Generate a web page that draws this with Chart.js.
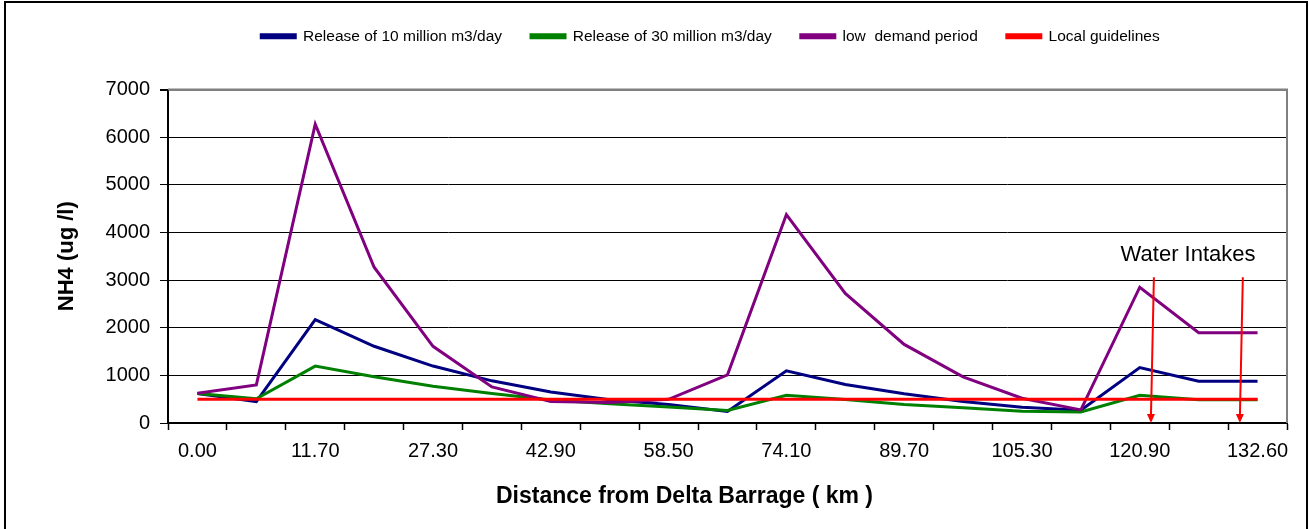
<!DOCTYPE html>
<html>
<head>
<meta charset="utf-8">
<script src="https://cdn.jsdelivr.net/npm/chart.js@4"></script>
<style>
  html, body { margin: 0; padding: 0; background: #fff; }
  canvas { display: block; }
</style>
</head>
<body>
<canvas id="nh4Chart" width="1309" height="529"></canvas>
<script>
const distances = ['0.00', '3.90', '11.70', '19.50', '27.30', '35.10', '42.90', '50.70', '58.50', '66.30',
                   '74.10', '81.90', '89.70', '97.50', '105.30', '113.10', '120.90', '128.70', '132.60'];
const release10 = [620, 450, 2170, 1610, 1195, 885, 650, 490, 390, 240, 1095, 810, 612, 452, 332, 270, 1165, 878, 878];
const release30 = [620, 510, 1195, 972, 772, 618, 482, 405, 335, 262, 580, 493, 390, 318, 245, 232, 580, 488, 488];
const lowDemand = [625, 800, 6270, 3270, 1610, 758, 452, 432, 498, 1012, 4376, 2720, 1650, 968, 520, 275, 2850, 1895, 1895];
const guideline = [500, 500, 500, 500, 500, 500, 500, 500, 500, 500, 500, 500, 500, 500, 500, 500, 500, 500, 500];
const yMax = 7000;
const yStep = 1000;

// water intakes: arrows given in (category index, value)
const intakeLabel = 'Water Intakes';
const intakeLabelAt = [16.82, 3520];
const intakeArrows = [
    { from: [16.24, 3060], to: [16.19, 0] },
    { from: [17.75, 3060], to: [17.70, 0] }
];
const xTitle = 'Distance from Delta Barrage ( km )';

const FONT = 'Arial, "Liberation Sans", sans-serif';

const extras = {
    id: 'extras',
    afterLayout(chart) {
        // nudge legend row to where it sits in the original
        const lg = chart.legend;
        lg.left += 62; lg.right += 62;
        lg.top -= 35.5; lg.bottom -= 35.5;
    },
    beforeDraw(chart) {
        const c = chart.ctx;
        c.save();
        c.fillStyle = '#fff';
        c.fillRect(0, 0, chart.width, chart.height);
        c.strokeStyle = '#000';
        c.lineWidth = 2;
        c.strokeRect(5, 2, chart.width - 7, chart.height + 5);
        c.restore();
    },
    beforeDatasetsDraw(chart) {
        const { ctx, chartArea: a } = chart;
        ctx.save();
        ctx.strokeStyle = '#808080';
        ctx.lineWidth = 2;
        ctx.beginPath();
        ctx.moveTo(a.left, a.top);
        ctx.lineTo(a.right, a.top);
        ctx.lineTo(a.right, a.bottom);
        ctx.stroke();
        ctx.restore();
    },
    afterDatasetsDraw(chart) {
        const { ctx, chartArea: a } = chart;
        const xs = chart.scales.x, ys = chart.scales.y;
        ctx.save();
        ctx.fillStyle = '#000';
        ctx.font = '22px ' + FONT;
        ctx.textAlign = 'center';
        ctx.textBaseline = 'middle';
        ctx.fillText(intakeLabel, xs.getPixelForValue(intakeLabelAt[0]), ys.getPixelForValue(intakeLabelAt[1]));

        // x title sits a little left of the plot centre in the original
        ctx.font = 'bold 23px ' + FONT;
        ctx.fillText(xTitle, (a.left + a.right) / 2 - 43, 497);

        ctx.strokeStyle = '#ff0000';
        ctx.fillStyle = '#ff0000';
        ctx.lineWidth = 2;
        intakeArrows.forEach(ar => {
            const x1 = xs.getPixelForValue(ar.from[0]), y1 = ys.getPixelForValue(ar.from[1]);
            const x2 = xs.getPixelForValue(ar.to[0]), y2 = ys.getPixelForValue(ar.to[1]);
            ctx.beginPath();
            ctx.moveTo(x1, y1);
            ctx.lineTo(x2, y2 - 6);
            ctx.stroke();
            ctx.beginPath();
            ctx.moveTo(x2, y2);
            ctx.lineTo(x2 - 4, y2 - 9);
            ctx.lineTo(x2 + 4, y2 - 9);
            ctx.closePath();
            ctx.fill();
        });
        ctx.restore();
    }
};

const line = (label, data, color, order) => ({
    label: label,
    data: data,
    borderColor: color,
    backgroundColor: color,
    borderWidth: 3,
    pointRadius: 0,
    tension: 0,
    order: order
});

new Chart(document.getElementById('nh4Chart'), {
    type: 'line',
    data: {
        labels: distances,
        datasets: [
            line('Release of 10 million m3/day', release10, '#000080', 3),
            line('Release of 30 million m3/day', release30, '#008000', 2),
            line('low  demand period', lowDemand, '#800080', 1),
            line('Local guidelines', guideline, '#ff0000', 0)
        ]
    },
    options: {
        responsive: false,
        animation: false,
        layout: { padding: { top: 35, left: 10, right: 22, bottom: 0 } },
        plugins: {
            tooltip: { enabled: false },
            legend: {
                position: 'top',
                labels: {
                    boxWidth: 34,
                    boxHeight: 3,
                    padding: 29,
                    color: '#000',
                    font: { family: FONT, size: 15.5 },
                    sort: (a, b) => a.datasetIndex - b.datasetIndex
                }
            }
        },
        scales: {
            x: {
                offset: true,
                afterFit: s => { s.height = 106; },
                grid: {
                    offset: true,
                    drawOnChartArea: false,
                    drawTicks: true,
                    tickLength: 7,
                    tickColor: '#000',
                    tickWidth: 1.5
                },
                border: { color: '#000', width: 2 },
                ticks: {
                    autoSkip: false,
                    maxRotation: 0,
                    padding: 9,
                    color: '#000',
                    font: { family: FONT, size: 20 },
                    callback: function (v, i) { return i % 2 === 0 ? this.getLabelForValue(v) : ''; }
                }
            },
            y: {
                min: 0,
                max: yMax,
                afterFit: s => { s.width = 158; },
                grid: {
                    color: ctx => (ctx.tick && ctx.tick.value === yMax) ? '#808080' : '#000',
                    lineWidth: ctx => (ctx.tick && ctx.tick.value === yMax) ? 2 : 1,
                    tickLength: 8,
                    tickColor: '#000'
                },
                border: { color: '#000', width: 2 },
                ticks: {
                    stepSize: yStep,
                    padding: 10,
                    color: '#000',
                    font: { family: FONT, size: 20 },
                    callback: v => String(v)
                },
                title: {
                    display: true,
                    text: 'NH4 (ug /l)',
                    color: '#000',
                    font: { family: FONT, size: 22, weight: 'bold' },
                    padding: { top: 44, bottom: 0 }
                }
            }
        }
    },
    plugins: [extras]
});
</script>
</body>
</html>
